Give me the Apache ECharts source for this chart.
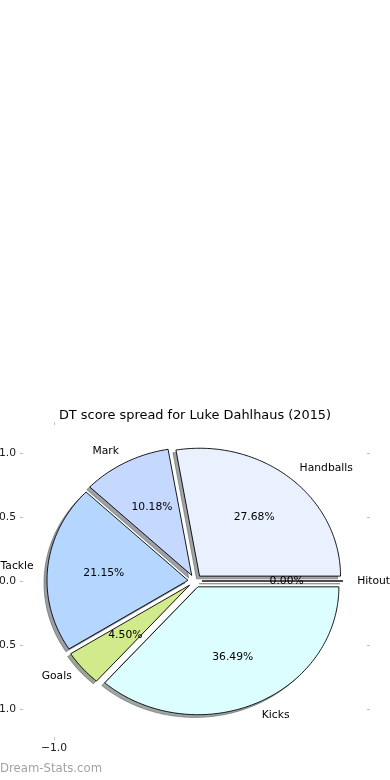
<!DOCTYPE html>
<html>
<head>
<meta charset="utf-8">
<script src="https://cdn.jsdelivr.net/npm/echarts@6/dist/echarts.min.js"></script>
<style>
html,body{margin:0;padding:0;background:#fff;}
#chart{width:390px;height:780px;}
</style>
</head>
<body>
<div id="chart"></div>
<script>
// ---- data ----
const titleText = 'DT score spread for Luke Dahlhaus (2015)';
const categories = ['Hitout', 'Handballs', 'Mark', 'Tackle', 'Goals', 'Kicks'];
const shares = [0.00, 27.68, 10.18, 21.15, 4.50, 36.49];
const sliceColors = ['#e6f0ff', '#eaf1fe', '#c5d9ff', '#b5d6ff', '#d0ea8c', '#dcfefe'];
const yTicks = [-1.0, -0.5, 0.0, 0.5, 1.0];
const xTicks = [-1.0];
const watermark = 'Dream-Stats.com';

// ---- geometry of a matplotlib-style pie ----
const RADIUS = 1;
const EXPLODE = 0.05;
const LABEL_DIST = 1.1;
const PCT_DIST = 0.6;
const SHADOW_OFF = -0.0215;
const LIM = 1.22;
const FONT = 'DejaVu Sans';

const total = shares.reduce((a, b) => a + b, 0);
const startDeg = [], endDeg = [];
let acc = 0;
shares.forEach(v => {
  startDeg.push(acc / total * 360);
  acc += v;
  endDeg.push(acc / total * 360);
});
const rad = d => d * Math.PI / 180;

function wedgePoints(api, i, dx, dy) {
  const a0 = startDeg[i], a1 = endDeg[i];
  const am = rad((a0 + a1) / 2);
  const cx = EXPLODE * Math.cos(am) + dx;
  const cy = EXPLODE * Math.sin(am) + dy;
  const pts = [api.coord([cx, cy])];
  const n = Math.max(1, Math.ceil((a1 - a0) / 1));
  for (let k = 0; k <= n; k++) {
    const a = rad(a0 + (a1 - a0) * k / n);
    pts.push(api.coord([cx + RADIUS * Math.cos(a), cy + RADIUS * Math.sin(a)]));
  }
  return pts;
}

function hexToRgb(h) {
  const n = parseInt(h.slice(1), 16);
  return [(n >> 16) & 255, (n >> 8) & 255, n & 255];
}

const seriesData = categories.map((c, i) => [0, 0, i]);

const chart = echarts.init(document.getElementById('chart'), null, {renderer: 'canvas'});

const tickStyle = {color: '#c0c0c0', width: 1};
const labelStyle = {color: '#1a1a1a', fontFamily: FONT, fontSize: 10.75};
const fmt = v => (v < 0 ? '\u2212' : '') + Math.abs(v).toFixed(1);

function axisBase(pos) {
  return {
    type: 'value', min: -LIM, max: LIM, position: pos,
    axisLine: {show: false, onZero: false},
    splitLine: {show: false}
  };
}

const option = {
  animation: false,
  backgroundColor: '#ffffff',
  title: {
    text: titleText,
    left: 'center',
    top: 404,
    textStyle: {fontFamily: FONT, fontSize: 12.9, fontWeight: 'normal', color: '#000'}
  },
  grid: {left: 23, right: 23, top: 425, bottom: 43, containLabel: false, outerBoundsMode: 'none'},
  xAxis: [
    Object.assign(axisBase('bottom'), {
      axisTick: {show: true, inside: false, customValues: xTicks, length: 3, lineStyle: tickStyle},
      axisLabel: Object.assign({show: true, customValues: xTicks, margin: 6, formatter: fmt}, labelStyle)
    }),
    Object.assign(axisBase('top'), {
      axisTick: {show: true, inside: false, customValues: xTicks, length: 3, lineStyle: tickStyle},
      axisLabel: {show: false}
    })
  ],
  yAxis: [
    Object.assign(axisBase('left'), {
      axisTick: {show: true, inside: false, customValues: yTicks, length: 3, lineStyle: tickStyle},
      axisLabel: Object.assign({show: true, customValues: yTicks, margin: 7, formatter: fmt}, labelStyle)
    }),
    Object.assign(axisBase('right'), {
      axisTick: {show: true, inside: false, customValues: yTicks, length: 3, lineStyle: tickStyle},
      axisLabel: {show: false}
    })
  ],
  graphic: [{
    type: 'text', left: 0, top: 763,
    style: {text: watermark, fill: '#a3a3a3', font: '11.7px "DejaVu Sans"'}
  }],
  series: [
    {
      name: 'shadow', type: 'custom', coordinateSystem: 'cartesian2d', z: 1,
      xAxisIndex: 0, yAxisIndex: 0, clip: false,
      encode: {x: 0, y: 1}, data: seriesData,
      renderItem: function (params, api) {
        const i = api.value(2);
        const rgb = hexToRgb(sliceColors[i]).map(c => Math.round(c * 0.3));
        const col = 'rgba(' + rgb.join(',') + ',0.5)';
        return {
          type: 'polygon',
          shape: {points: wedgePoints(api, i, SHADOW_OFF, SHADOW_OFF)},
          style: {fill: col, stroke: col, lineWidth: 0.9}
        };
      }
    },
    {
      name: 'wedges', type: 'custom', coordinateSystem: 'cartesian2d', z: 2,
      xAxisIndex: 0, yAxisIndex: 0, clip: false,
      encode: {x: 0, y: 1}, data: seriesData,
      renderItem: function (params, api) {
        const i = api.value(2);
        return {
          type: 'polygon',
          shape: {points: wedgePoints(api, i, 0, 0)},
          style: {fill: sliceColors[i], stroke: '#000', lineWidth: 0.9}
        };
      }
    },
    {
      name: 'labels', type: 'custom', coordinateSystem: 'cartesian2d', z: 3,
      xAxisIndex: 0, yAxisIndex: 0, clip: false,
      encode: {x: 0, y: 1}, data: seriesData,
      renderItem: function (params, api) {
        const i = api.value(2);
        const am = rad((startDeg[i] + endDeg[i]) / 2);
        const c = Math.cos(am), s = Math.sin(am);
        const lp = api.coord([(EXPLODE + LABEL_DIST * RADIUS) * c, (EXPLODE + LABEL_DIST * RADIUS) * s]);
        const pp = api.coord([(EXPLODE + PCT_DIST * RADIUS) * c, (EXPLODE + PCT_DIST * RADIUS) * s]);
        const font = '10.75px "DejaVu Sans"';
        return {
          type: 'group',
          children: [{
            type: 'text',
            style: {
              text: categories[i], x: lp[0], y: lp[1],
              align: c >= 0 ? 'left' : 'right', verticalAlign: 'middle',
              font: font, fill: '#000'
            }
          }, {
            type: 'text',
            style: {
              text: (shares[i] / total * 100).toFixed(2) + '%', x: pp[0], y: pp[1],
              align: 'center', verticalAlign: 'middle',
              font: font, fill: '#000'
            }
          }]
        };
      }
    }
  ]
};
chart.setOption(option);
</script>
</body>
</html>
